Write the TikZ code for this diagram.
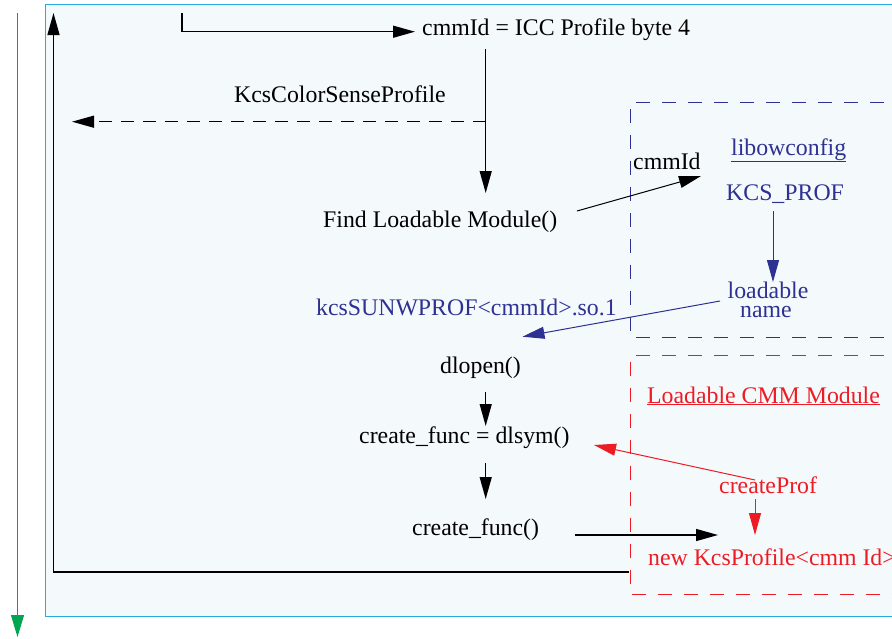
\documentclass[tikz,border=0pt]{standalone}
\usepackage{fontspec}
\setmainfont{Liberation Serif}
\usetikzlibrary{arrows.meta}
\definecolor{fmblue}{HTML}{2E3192}
\definecolor{fmred}{HTML}{ED1C24}
\definecolor{fmgreen}{HTML}{00A651}
\definecolor{frameblue}{HTML}{29ABE2}
\definecolor{framefill}{HTML}{F4F9FC}
\tikzset{
  txt/.style={inner sep=0pt, anchor=base west, font=\fontsize{23.8}{26}\selectfont},
  ctxt/.style={inner sep=0pt, anchor=base, font=\fontsize{23.8}{26}\selectfont},
  arr/.style={-{Triangle[length=22pt,width=12pt]}, line width=1.3pt},
  thinarr/.style={-{Triangle[length=22pt,width=12pt]}, line width=1pt},
  greenarr/.style={-{Triangle[length=22pt,width=13pt]}, line width=1.2pt, draw=fmgreen, fill=fmgreen},
  dashbox/.style={line width=1pt, dash pattern=on 14pt off 12pt},
  dashline/.style={line width=1.2pt, dash pattern=on 13pt off 9pt}
}
\begin{document}
\begin{tikzpicture}[x=1pt,y=-1pt]
\useasboundingbox (0,0) rectangle (892,638);
% outer frame
\draw[draw=frameblue, fill=framefill, line width=1pt] (45.5,4.5) rectangle (910,616.5);
% green time arrow
\coordinate (gTop) at (17.5,13);
\coordinate (gBot) at (17.5,637);
\draw[greenarr] (gTop) -- (gBot);
% dashed module boxes
\draw[fmblue, dashbox] (910,102.5) -- (630,102.5) -- (630,337) -- (910,337);
\draw[fmred, dashbox] (910,355.5) -- (630,355.5) -- (630,594) -- (910,594);
% texts
\node[txt] (cmm) at (422,35) {cmmId = ICC Profile byte 4};
\node[txt] (kcs) at (234,102) {KcsColorSenseProfile};
\node[txt] (find) at (323,227) {Find Loadable Module()};
\node[txt] (cmmlbl) at (633,169) {cmmId};
\node[txt, fmblue] (lib) at (731,155) {\underline{libowconfig}};
\node[txt, fmblue] (kprof) at (726,200.5) {KCS\_PROF};
\node[ctxt, fmblue] (lname1) at (768,298) {loadable};
\node[ctxt, fmblue] (lname2) at (766,317) {name};
\node[txt, fmblue] (sunw) at (316,315) {kcsSUNWPROF<cmmId>.so.1};
\node[txt] (dlopen) at (440,373) {dlopen()};
\node[txt] (dlsym) at (359,443) {create\_func = dlsym()};
\node[txt] (cfunc) at (412,535) {create\_func()};
\node[txt, fmred] (lcmm) at (647,403) {\underline{Loadable CMM Module}};
\node[txt, fmred] (cprof) at (719,493) {createProf};
\node[txt, fmred] (newk) at (648,565) {new KcsProfile<cmm Id>};
% loop-back connector
\coordinate (loopA) at (629,572);
\coordinate (loopB) at (53.5,572);
\coordinate (loopC) at (53.5,13);
\draw[arr] (loopA) -- (loopB) -- (loopC);
% entry into cmmId
\coordinate (entryA) at (182,13);
\coordinate (entryB) at (182,31.7);
\coordinate (entryC) at (415,31.7);
\draw[line width=1.3pt] (entryA) -- (entryB);
\draw[arr] (entryB) -- (entryC);
% cmm -> find
\coordinate (vA) at (485.7,49);
\coordinate (vB) at (485.7,193);
\coordinate (vD) at (485.7,121.7);
\coordinate (vE) at (72,121.7);
\draw[arr] (vA) -- (vB);
\draw[arr, dashline] (vD) -- (vE);
% find -> libowconfig
\coordinate (fA) at (577,211);
\coordinate (fB) at (701,176);
\draw[thinarr] (fA) -- (fB);
% KCS_PROF -> loadable name
\coordinate (kA) at (773,211);
\coordinate (kB) at (773,282);
\draw[thinarr, fmblue] (kA) -- (kB);
% loadable name -> kcsSUNWPROF
\coordinate (lA) at (720,301);
\coordinate (lB) at (522.5,336.7);
\draw[thinarr, fmblue] (lA) -- (lB);
% dlopen -> dlsym -> create_func
\coordinate (dA) at (485.7,392);
\coordinate (dB) at (485.7,426);
\coordinate (dC) at (485.7,463);
\coordinate (dD) at (485.7,499);
\draw[arr] (dA) -- (dB);
\draw[arr] (dC) -- (dD);
% create_func() -> new KcsProfile
\coordinate (cA) at (575,535);
\coordinate (cB) at (718,535);
\draw[arr] (cA) -- (cB);
% createProf -> dlsym
\coordinate (rA) at (755,480);
\coordinate (rB) at (594,445);
\draw[thinarr, fmred] (rA) -- (rB);
% createProf -> new KcsProfile
\coordinate (rC) at (755,499);
\coordinate (rD) at (755,535);
\draw[thinarr, fmred] (rC) -- (rD);
\end{tikzpicture}
\end{document}
